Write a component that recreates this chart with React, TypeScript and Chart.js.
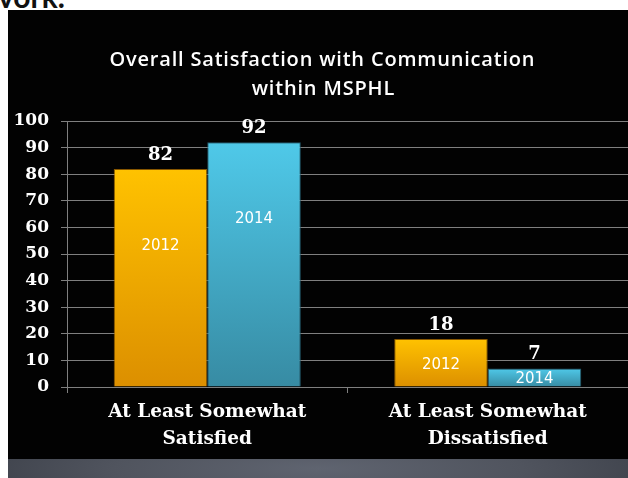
import React, { useEffect, useRef } from "react";
import { Chart, registerables } from "chart.js";

Chart.register(...registerables);

const categories: string[][] = [
  ["At Least Somewhat", "Satisfied"],
  ["At Least Somewhat", "Dissatisfied"],
];
const seriesNames = ["2012", "2014"];
const values2012 = [82, 18];
const values2014 = [92, 7];
const titleLines = ["Overall Satisfaction with Communication", "within MSPHL"];
const yMin = 0;
const yMax = 100;
const yStep = 10;

const SERIF = "'DejaVu Serif', 'Liberation Serif', serif";
const GRID = "#7f7f7f";

const gradients: Record<string, [string, string]> = {
  "2012": ["#FFC200", "#DC8F00"],
  "2014": ["#4FC9E9", "#378BA3"],
};

function barFill(ctx: any) {
  const chart = ctx.chart;
  const name = seriesNames[ctx.datasetIndex];
  const [c1, c2] = gradients[name];
  const ys = chart.scales && chart.scales.y;
  if (!chart.chartArea || !ys || ctx.dataIndex === undefined) return c1;
  const v = ctx.raw as number;
  const top = ys.getPixelForValue(v);
  const base = ys.getPixelForValue(0);
  if (!isFinite(top) || !isFinite(base) || top === base) return c1;
  const g = chart.ctx.createLinearGradient(0, top, 0, base);
  g.addColorStop(0, c1);
  g.addColorStop(1, c2);
  return g;
}

const titlePlugin = {
  id: "customTitle",
  afterDraw(chart: any) {
    const c = chart.ctx;
    c.save();
    c.fillStyle = "#ffffff";
    c.font = "600 20px 'Open Sans', Lato, sans-serif";
    c.textAlign = "center";
    c.textBaseline = "middle";
    const w = c.measureText(titleLines[0]).width;
    const n = titleLines[0].length;
    const sp = Math.max(0, (426 - w) / n);
    (c as any).letterSpacing = sp.toFixed(2) + "px";
    c.fillText(titleLines[0], 314 + sp / 2, 50);
    c.fillText(titleLines[1], 315 + sp / 2, 79);
    c.restore();
  },
};

const labelPlugin = {
  id: "barLabels",
  afterDatasetsDraw(chart: any) {
    const c = chart.ctx;
    c.save();
    chart.data.datasets.forEach((ds: any, di: number) => {
      const meta = chart.getDatasetMeta(di);
      meta.data.forEach((el: any, i: number) => {
        const v = ds.data[i];
        c.fillStyle = "#ffffff";
        c.textAlign = "center";
        c.textBaseline = "middle";
        c.font = "bold 18px " + SERIF;
        c.fillText(String(v), el.x, el.y - 14);
        const mid = (el.y + el.base) / 2;
        const ly = Math.min(el.y + 77, mid + 2);
        c.font = "15px 'DejaVu Sans', sans-serif";
        c.fillText(ds.label, el.x, ly);
      });
    });
    c.restore();
  },
};

export default function App() {
  const ref = useRef<HTMLCanvasElement | null>(null);

  useEffect(() => {
    if (!ref.current) return;
    const chart = new Chart(ref.current, {
      type: "bar",
      data: {
        labels: categories,
        datasets: [
          {
            label: seriesNames[0],
            data: values2012,
            backgroundColor: barFill,
            borderColor: "rgba(150,95,0,0.9)",
            borderWidth: 1,
          },
          {
            label: seriesNames[1],
            data: values2014,
            backgroundColor: barFill,
            borderColor: "rgba(40,100,120,0.9)",
            borderWidth: 1,
          },
        ],
      },
      options: {
        responsive: false,
        animation: false,
        maintainAspectRatio: false,
        datasets: {
          bar: { categoryPercentage: 0.667, barPercentage: 1 },
        },
        layout: { padding: { top: 111, left: 0, right: 0, bottom: 0 } },
        plugins: {
          legend: { display: false },
          title: { display: false },
          tooltip: { enabled: false },
        },
        scales: {
          x: {
            afterFit: (s: any) => {
              s.height = 72;
            },
            ticks: {
              color: "#ffffff",
              font: { family: SERIF, size: 18.5, weight: "bold", lineHeight: 1.46 },
              padding: 6,
              maxRotation: 0,
              autoSkip: false,
            },
            grid: {
              drawOnChartArea: false,
              drawTicks: true,
              tickLength: 6,
              color: GRID,
            },
            border: { color: GRID, width: 1 },
          },
          y: {
            min: yMin,
            max: yMax,
            afterFit: (s: any) => {
              s.width = 59;
            },
            ticks: {
              stepSize: yStep,
              color: "#ffffff",
              font: { family: SERIF, size: 17, weight: "bold" },
              padding: 12,
            },
            grid: {
              color: GRID,
              tickLength: 6,
              lineWidth: 1,
            },
            border: { color: GRID, width: 1 },
          },
        },
      },
      plugins: [titlePlugin, labelPlugin],
    });
    return () => chart.destroy();
  }, []);

  return (
    <div
      style={{
        position: "fixed",
        left: 0,
        top: 0,
        width: 628,
        height: 478,
        background: "#ffffff",
        overflow: "hidden",
      }}
    >
      <div
        style={{
          position: "absolute",
          left: -2,
          top: -19,
          fontFamily: "Lato, 'Open Sans', sans-serif",
          fontWeight: 700,
          fontSize: 30,
          lineHeight: "30px",
          color: "#111",
          whiteSpace: "nowrap",
        }}
      >
        vork.
      </div>
      <div
        style={{
          position: "absolute",
          left: 8,
          top: 10,
          width: 620,
          height: 449,
          background: "#020202",
        }}
      >
        <canvas ref={ref} width={620} height={449} style={{ display: "block" }} />
      </div>
      <div
        style={{
          position: "absolute",
          left: 8,
          top: 459,
          width: 620,
          height: 19,
          background:
            "radial-gradient(ellipse 60% 300% at 50% 50%, #5f6470 0%, #50545e 55%, #3b3f48 100%)",
        }}
      />
    </div>
  );
}
